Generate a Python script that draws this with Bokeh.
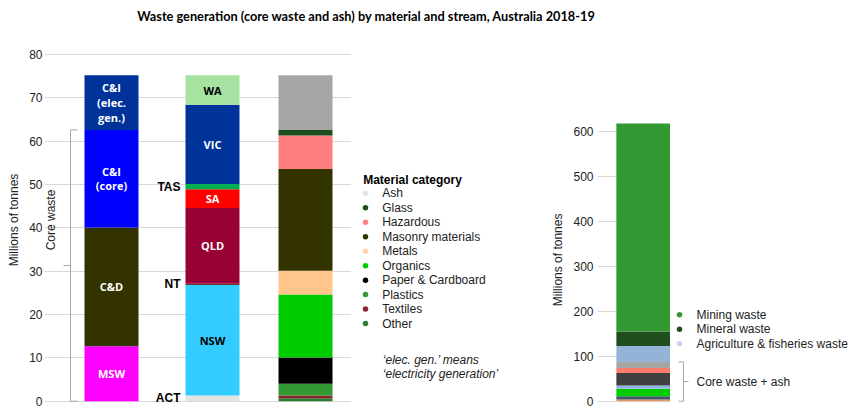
import numpy as np
from math import pi
from bokeh.plotting import figure
from bokeh.models import Range1d, Label, FixedTicker, ColumnDataSource
from bokeh.layouts import column, row
from bokeh.core.properties import value
from bokeh.embed import file_html
from bokeh.resources import INLINE

# ---------------- data ----------------
title_text = "Waste generation (core waste and ash) by material and stream, Australia 2018-19"

streams = ["MSW", "C&D", "C&I (core)", "C&I (elec. gen.)"]
stream_labels = ["MSW", "C&D", "C&I\n(core)", "C&I\n(elec.\ngen.)"]
stream_vals = [12.7, 27.4, 22.5, 12.6]

states = ["ACT", "NSW", "NT", "QLD", "SA", "TAS", "VIC", "WA"]
state_vals = [1.3, 25.5, 0.3, 17.5, 4.3, 1.2, 18.3, 6.8]

materials = ["Other", "Textiles", "Plastics", "Paper & Cardboard", "Organics",
             "Metals", "Masonry materials", "Hazardous", "Glass", "Ash"]
material_vals = [0.7, 0.6, 2.7, 6.1, 14.5, 5.5, 23.5, 7.7, 1.3, 12.6]

all_streams = ["Other", "Paper & Cardboard", "Organics", "Metals", "Masonry materials",
               "Hazardous", "Ash", "Agriculture & fisheries waste", "Mineral waste", "Mining waste"]
all_vals = [3.8, 7.3, 16.5, 7.3, 28.2, 11.1, 13.4, 35.4, 32.5, 463.2]
right_legend = ["Mining waste", "Mineral waste", "Agriculture & fisheries waste"]

left_ticks = [0, 10, 20, 30, 40, 50, 60, 70, 80]
right_ticks = [0, 100, 200, 300, 400, 500, 600]

# ---------------- styles ----------------
stream_colors = ["#ff00ff", "#333300", "#0000ff", "#003399"]
stream_text_colors = ["white", "white", "white", "white"]
state_colors = ["#e3e3e3", "#33ccff", "#6e2a35", "#990033", "#ff0000", "#00b050", "#003399", "#a6e3a1"]
state_text_colors = ["black", "black", "black", "white", "white", "black", "white", "black"]
outside_states = {"ACT", "NT", "TAS"}
material_colors = ["#2e7d32", "#8b2331", "#339933", "#000000", "#00cc00",
                   "#ffc58a", "#333300", "#ff7f7f", "#1e4d1e", "#a6a6a6"]
material_legend_colors = ["#2e7d32", "#8b2331", "#339933", "#000000", "#00cc00",
                          "#ffd2ad", "#333300", "#ff8080", "#1e4d1e", "#e3e3e3"]
all_colors = ["#e59a66", "#44546a", "#00cc00", "#8db4e2", "#404040",
              "#ff7b6e", "#a6a6a6", "#95b3d7", "#1e4d1e", "#339933"]
right_legend_colors = ["#339933", "#1e4d1e", "#c5d5ec"]

AX_FONT = "Liberation Sans"
BAR_FONT = "Open Sans"
GRID = "#d9d9d9"
TXT = "#222222"
BRACE = "#a6a6a6"

TOP_B = 3      # top border of every chart in the row
BOT_B = 12     # bottom border of every chart in the row
ROW_TOP = 33
ROW_H = 382
FRAME_TOP = 36     # page y of frame top
FRAME_BOT = 404    # page y of frame bottom
ZERO_Y = 401.7     # page y of value 0
H_FR = FRAME_BOT - FRAME_TOP


def stack(vals):
    v = np.array(vals, dtype=float)
    top = np.cumsum(v)
    bottom = top - v
    return bottom, top


def clean(p):
    p.outline_line_color = None
    p.xaxis.visible = False
    p.xgrid.visible = False


def style_yaxis(p, standoff):
    ax = p.yaxis[0]
    ax.axis_line_color = None
    ax.major_tick_line_color = None
    ax.minor_tick_line_color = None
    ax.major_tick_out = 0
    ax.major_tick_in = 0
    ax.major_label_text_font = AX_FONT
    ax.major_label_text_font_size = "12px"
    ax.major_label_text_color = TXT
    ax.major_label_standoff = standoff
    p.ygrid.grid_line_color = GRID
    p.ygrid.grid_line_width = 1


def blank(p):
    p.axis.visible = False
    p.grid.visible = False
    p.outline_line_color = None


def panel(width):
    p = figure(width=width, height=ROW_H, x_range=Range1d(0, width), y_range=Range1d(0, H_FR),
               output_backend="svg", toolbar_location=None,
               min_border_left=0, min_border_right=0, min_border_top=TOP_B, min_border_bottom=BOT_B)
    blank(p)
    return p


# ---------------- title ----------------
pt = figure(width=854, height=ROW_TOP, x_range=Range1d(0, 854), y_range=Range1d(0, ROW_TOP),
            output_backend="svg", toolbar_location=None,
            min_border_left=0, min_border_right=0, min_border_top=0, min_border_bottom=0)
blank(pt)
pt.add_layout(Label(x=366, y=ROW_TOP - 15, text=title_text, text_align="center", text_baseline="middle",
                    text_font="Lato", text_font_style="bold",
                    text_font_size="12.75px", text_color="black"))

# ---------------- left chart ----------------
PX1 = 4.346  # px per unit
p1 = figure(width=351, height=ROW_H, x_range=Range1d(0, 307),
            y_range=Range1d(-(FRAME_BOT - ZERO_Y) / PX1, (ZERO_Y - FRAME_TOP) / PX1),
            output_backend="svg", toolbar_location=None,
            min_border_left=44, min_border_right=0, min_border_top=TOP_B, min_border_bottom=BOT_B)
clean(p1)
style_yaxis(p1, 2)
p1.yaxis.ticker = FixedTicker(ticks=left_ticks)
ax = p1.yaxis[0]
ax.axis_label = "Millions of tonnes"
ax.axis_label_text_font = AX_FONT
ax.axis_label_text_font_size = "12px"
ax.axis_label_text_font_style = "normal"
ax.axis_label_text_color = TXT
ax.axis_label_standoff = 5

BW = 54
xs_bar = [67, 168, 261]

# stream bar
b, t = stack(stream_vals)
p1.vbar(x=xs_bar[0], width=BW, bottom=b, top=t, fill_color=stream_colors, line_color=None)
src = ColumnDataSource(dict(x=[xs_bar[0]] * len(streams), y=(b + t) / 2, text=stream_labels,
                            c=stream_text_colors))
p1.text(x="x", y="y", text="text", text_color="c", source=src, text_align="center",
        text_baseline="middle", text_font=value(BAR_FONT), text_font_style="bold",
        text_font_size="11px", text_line_height=0.98)

# state bar
b, t = stack(state_vals)
p1.vbar(x=xs_bar[1], width=BW, bottom=b, top=t, fill_color=state_colors, line_color=None)
ins = [i for i, s in enumerate(states) if s not in outside_states]
outs = [i for i, s in enumerate(states) if s in outside_states]
src_in = ColumnDataSource(dict(x=[xs_bar[1]] * len(ins), y=[(b[i] + t[i]) / 2 for i in ins],
                               text=[states[i] for i in ins], c=[state_text_colors[i] for i in ins]))
p1.text(x="x", y="y", text="text", text_color="c", source=src_in, text_align="center",
        text_baseline="middle", text_font=value(BAR_FONT), text_font_style="bold",
        text_font_size="11px")
src_out = ColumnDataSource(dict(x=[xs_bar[1] - BW / 2 - 5] * len(outs),
                                y=[(b[i] + t[i]) / 2 for i in outs],
                                text=[states[i] for i in outs]))
p1.text(x="x", y="y", text="text", text_color="black", source=src_out, text_align="right",
        text_baseline="middle", text_font=value(AX_FONT), text_font_style="bold",
        text_font_size="12px")

# material bar
b, t = stack(material_vals)
p1.vbar(x=xs_bar[2], width=BW, bottom=b, top=t, fill_color=material_colors, line_color=None)

# core waste brace
core_top = float(np.sum(stream_vals[:3]))
p1.line(x=[33, 26, 26, 33], y=[core_top, core_top, 0, 0], line_color=BRACE, line_width=1)
p1.line(x=[26, 19], y=[core_top / 2, core_top / 2], line_color=BRACE, line_width=1)
p1.text(x=[6], y=[(ZERO_Y - 220) / PX1], text=["Core waste"], angle=pi / 2, text_align="center",
        text_baseline="middle", text_font=value(AX_FONT), text_font_size="12px", text_color=TXT)

# ---------------- legend area ----------------
p1b = panel(194)
X0 = 351
leg_names = materials[::-1]
leg_cols = material_legend_colors[::-1]
ys = [FRAME_BOT - (193.3 + 14.5 * i) for i in range(len(leg_names))]
p1b.text(x=[362.7 - X0], y=[FRAME_BOT - 180], text=["Material category"], text_align="left",
         text_baseline="middle", text_font=value(AX_FONT), text_font_style="bold",
         text_font_size="12px", text_color="black")
p1b.scatter(x=[365 - X0] * len(leg_names), y=ys, size=5.5, fill_color=leg_cols, line_color=None)
p1b.text(x=[381.7 - X0] * len(leg_names), y=ys, text=leg_names, text_align="left",
         text_baseline="middle", text_font=value(AX_FONT), text_font_size="12px", text_color=TXT)
p1b.text(x=[382.3 - X0] * 2, y=[FRAME_BOT - 360, FRAME_BOT - 374],
         text=["\u2018elec. gen.\u2019 means", "\u2018electricity generation\u2019"],
         text_align="left", text_baseline="middle", text_font=value(AX_FONT),
         text_font_style="italic", text_font_size="12px", text_color=TXT)

# ---------------- right chart: axis title strip ----------------
X_L = 545
p2l = panel(20)
p2l.text(x=[557 - X_L], y=[FRAME_BOT - 260], text=["Millions of tonnes"], angle=pi / 2,
         text_align="center", text_baseline="middle", text_font=value(AX_FONT),
         text_font_size="12px", text_color=TXT)

# ---------------- right chart ----------------
PX2 = 0.45
p2 = figure(width=105, height=ROW_H, x_range=Range1d(0, 73.5),
            y_range=Range1d(-(FRAME_BOT - ZERO_Y) / PX2, (ZERO_Y - FRAME_TOP) / PX2),
            output_backend="svg", toolbar_location=None,
            min_border_left=32, min_border_right=0, min_border_top=TOP_B, min_border_bottom=BOT_B)
clean(p2)
style_yaxis(p2, 4)
p2.yaxis.ticker = FixedTicker(ticks=right_ticks)
b, t = stack(all_vals)
p2.vbar(x=46, width=BW, bottom=b, top=t, fill_color=all_colors, line_color=None)

p2b = figure(width=184, height=ROW_H, x_range=Range1d(0, 184), y_range=p2.y_range,
             output_backend="svg", toolbar_location=None,
             min_border_left=0, min_border_right=0, min_border_top=TOP_B, min_border_bottom=BOT_B)
p2b.extra_y_ranges = {"px": Range1d(0, H_FR)}
blank(p2b)
X2 = 670
ys2 = [FRAME_BOT - (315 + 14.5 * i) for i in range(len(right_legend))]
p2b.scatter(x=[679 - X2] * 3, y=ys2, size=5.5, fill_color=right_legend_colors, line_color=None,
            y_range_name="px")
p2b.text(x=[696 - X2] * 3, y=ys2, text=right_legend, text_align="left", text_baseline="middle",
         text_font=value(AX_FONT), text_font_size="12px", text_color=TXT, y_range_name="px")
ca_top = float(t[all_streams.index("Ash")])
p2b.line(x=[678 - X2, 683 - X2, 683 - X2, 678 - X2], y=[ca_top, ca_top, 0, 0],
         line_color=BRACE, line_width=1)
p2b.line(x=[683 - X2, 688 - X2], y=[ca_top / 2, ca_top / 2], line_color=BRACE, line_width=1)
p2b.text(x=[696 - X2], y=[ca_top / 2], text=["Core waste + ash"], text_align="left",
         text_baseline="middle", text_font=value(AX_FONT), text_font_size="12px", text_color=TXT)

layout = column(pt, row(p1, p1b, p2l, p2, p2b))
open("out.html", "w").write(file_html(layout, INLINE))
